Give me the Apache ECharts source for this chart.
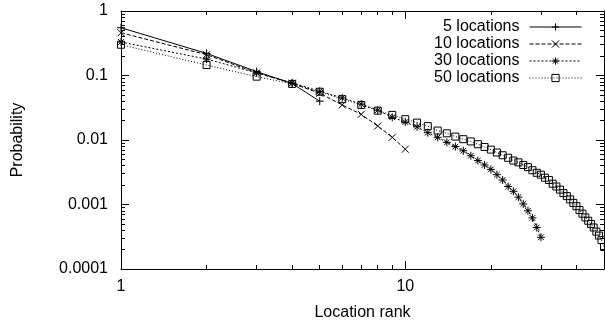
<!DOCTYPE html>
<html>
<head>
<meta charset="utf-8">
<script src="https://cdn.jsdelivr.net/npm/echarts@6/dist/echarts.min.js"></script>
<style>
  html, body { margin: 0; background: #fff; }
  #main { width: 605px; height: 326px; }
</style>
</head>
<body>
<div id="main"></div>
<script>
// series names
var names = ['5 locations', '10 locations', '30 locations', '50 locations'];

// probability by location rank (rank = position in list, starting at 1)
var prob5 = [0.55, 0.22, 0.115, 0.075, 0.04];
var prob10 = [0.46, 0.21, 0.11, 0.076, 0.053, 0.035, 0.025, 0.0165, 0.011, 0.0072];
var prob30 = [0.33, 0.18, 0.11, 0.077, 0.057, 0.045, 0.036, 0.029, 0.0225, 0.019,
  0.016, 0.013, 0.011, 0.0092, 0.0079, 0.0068, 0.0057, 0.0048, 0.0041, 0.0035,
  0.0029, 0.0024, 0.0019, 0.0016, 0.0013, 0.00102, 0.0008, 0.00062, 0.00044, 0.00031];
var prob50 = [0.30, 0.145, 0.096, 0.074, 0.056, 0.043, 0.035, 0.0285, 0.0245, 0.021,
  0.0186, 0.0164, 0.014, 0.0127, 0.0113, 0.0103, 0.0095, 0.0086, 0.0078, 0.0071,
  0.0064, 0.0058, 0.0053, 0.0048, 0.0045, 0.0041, 0.0038, 0.0034, 0.0031, 0.0029,
  0.0026, 0.0024, 0.0021, 0.0019, 0.0017, 0.0015, 0.00135, 0.0012, 0.00106, 0.00094,
  0.00082, 0.00072, 0.00063, 0.00056, 0.0005, 0.00044, 0.00038, 0.00033, 0.00028, 0.00022];

// tick values and labels
var xMajor = [1, 10];
var xLabels = ['1', '10'];
var xMinor = [2, 3, 4, 5, 6, 7, 8, 9, 20, 30, 40];
var yMajor = [0.0001, 0.001, 0.01, 0.1, 1];
var yLabels = ['0.0001', '0.001', '0.01', '0.1', '1'];
var yMinor = [];
[0.0001, 0.001, 0.01, 0.1].forEach(function (d) {
  for (var k = 2; k <= 9; k++) yMinor.push(d * k);
});

var font = 'Liberation Sans, Arial, Helvetica, sans-serif';

function pick(vals, labels) {
  return function (v) {
    for (var i = 0; i < vals.length; i++) {
      if (Math.abs(Math.log10(v) - Math.log10(vals[i])) < 1e-6) return labels[i];
    }
    return '';
  };
}

function axis(dim, pos, ticks, len, withLine, labels) {
  var a = {
    type: 'log', logBase: 10,
    position: pos,
    axisLine: { show: withLine, onZero: false, lineStyle: { color: '#000', width: 1 } },
    axisTick: { show: true, inside: true, length: len, customValues: ticks, lineStyle: { color: '#000', width: 1 } },
    axisLabel: { show: false },
    splitLine: { show: false },
    minorTick: { show: false }
  };
  if (dim === 'x') { a.min = 1; a.max = 50; } else { a.min = 0.0001; a.max = 1; }
  if (labels) {
    a.axisLabel = {
      show: true, customValues: ticks, formatter: pick(ticks, labels),
      color: '#000', fontSize: 16, fontFamily: font, margin: dim === 'x' ? 10 : 13
    };
  }
  return a;
}

var xAxes = [
  axis('x', 'bottom', xMajor, 8, true, xLabels),
  axis('x', 'bottom', xMinor, 4, false),
  axis('x', 'top', xMajor, 8, true),
  axis('x', 'top', xMinor, 4, false)
];
xAxes[0].name = 'Location rank';
xAxes[0].nameLocation = 'middle';
xAxes[0].nameGap = 36;
xAxes[0].nameTextStyle = { color: '#000', fontSize: 16, fontFamily: font };

var yAxes = [
  axis('y', 'left', yMajor, 8, true, yLabels),
  axis('y', 'left', yMinor, 4, false),
  axis('y', 'right', yMajor, 8, true),
  axis('y', 'right', yMinor, 4, false)
];
yAxes[0].name = 'Probability';
yAxes[0].nameLocation = 'middle';
yAxes[0].nameGap = 95;
yAxes[0].nameTextStyle = { color: '#000', fontSize: 16, fontFamily: font };

function pts(arr) {
  return arr.map(function (p, i) { return [i + 1, p]; });
}

var symPlus = 'path://M0,5L10,5M5,0L5,10';
var symCross = 'path://M0,0L10,10M0,10L10,0';
var symStar = 'path://M0,5L10,5M5,0L5,10M1.5,1.5L8.5,8.5M1.5,8.5L8.5,1.5';
var symBox = 'path://M0,0L10,0L10,10L0,10Z';

function line(name, arr, sym, size, dash) {
  return {
    name: name, type: 'line', data: pts(arr),
    xAxisIndex: 0, yAxisIndex: 0,
    symbol: sym, symbolSize: size, showAllSymbol: true,
    lineStyle: { color: '#000', width: 1, type: dash },
    itemStyle: { color: 'transparent', borderColor: '#000', borderWidth: 1 },
    emphasis: { disabled: true },
    clip: true
  };
}

var chart = echarts.init(document.getElementById('main'), null, { renderer: 'canvas' });
chart.setOption({
  animation: false,
  backgroundColor: '#fff',
  grid: { left: 121, right: 1, top: 11, bottom: 57, containLabel: false, outerBoundsMode: 'none' },
  xAxis: xAxes,
  yAxis: yAxes,
  legend: {
    orient: 'vertical', right: 23, top: 19, align: 'right', padding: 0,
    itemWidth: 52, itemHeight: 9, itemGap: 1,
    lineStyle: { width: 1 },
    itemStyle: { color: 'transparent', borderColor: '#000', borderWidth: 1 },
    textStyle: { color: '#000', fontSize: 16, fontFamily: font, padding: [0, 5, 0, 0] },
    data: names
  },
  series: [
    line(names[0], prob5, symPlus, 8, 'solid'),
    line(names[1], prob10, symCross, 7, [4, 2]),
    line(names[2], prob30, symStar, 8, [2, 2]),
    line(names[3], prob50, symBox, 7, [1, 2])
  ]
});
</script>
</body>
</html>
